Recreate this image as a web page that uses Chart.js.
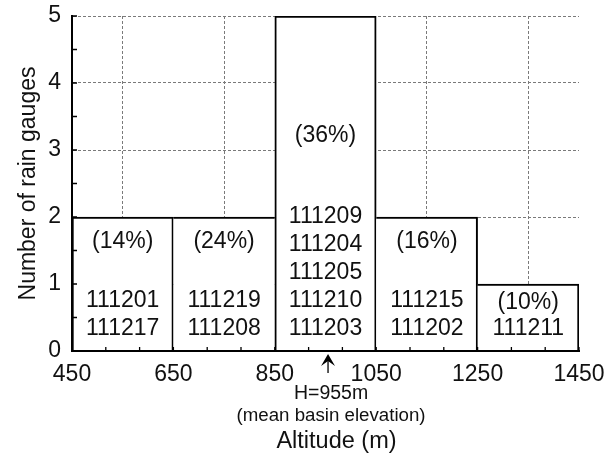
<!DOCTYPE html>
<html>
<head>
<meta charset="utf-8">
<script src="https://cdn.jsdelivr.net/npm/chart.js@4/dist/chart.umd.min.js"></script>
<style>
  html, body { margin: 0; padding: 0; background: #fff; }
  #wrap { width: 613px; height: 458px; }
</style>
</head>
<body>
<div id="wrap"><canvas id="chart"></canvas></div>
<script>
// Altitude bins (lower edge, m) and bin width
const binStarts = [450, 650, 850, 1050, 1250];
const binWidth = 200;
// Number of rain gauges in each altitude bin
const gaugeCounts = [2, 2, 5, 2, 1];
// Share of basin area in each bin
const areaShares = ['(14%)', '(24%)', '(36%)', '(16%)', '(10%)'];
// Gauge station codes in each bin, top to bottom
const gaugeIds = [
  ['111201', '111217'],
  ['111219', '111208'],
  ['111209', '111204', '111205', '111210', '111203'],
  ['111215', '111202'],
  ['111211']
];
// Mean basin elevation (m)
const meanElevation = 955;
// Axis ticks
const xTickValues = [450, 650, 850, 1050, 1250, 1450];
const yTickValues = [0, 1, 2, 3, 4, 5];

const FONT = '"Liberation Sans", Arial, Helvetica, sans-serif';
Chart.defaults.font.family = FONT;
Chart.defaults.color = '#000';

// where the share label of each bin sits (in gauge-count units)
const shareLabelAt = [1.63, 1.63, 3.21, 1.63, 0.72];

const n = gaugeCounts.length;

const barAnnotations = {
  id: 'barAnnotations',
  afterDatasetsDraw(chart) {
    const { ctx, chartArea, scales: { x, y } } = chart;
    ctx.save();

    // inward minor tick marks
    ctx.strokeStyle = '#000';
    ctx.lineWidth = 1.3;
    ctx.beginPath();
    for (let v = 0; v <= 5.0001; v += 0.5) {
      const py = y.getPixelForValue(v);
      ctx.moveTo(chartArea.left, py);
      ctx.lineTo(chartArea.left + 5, py);
    }
    for (let k = 0; k <= 15; k++) {
      const px = x.getPixelForValue(xTickValues[0] + k * binWidth / 3);
      ctx.moveTo(px, chartArea.bottom);
      ctx.lineTo(px, chartArea.bottom - 4);
    }
    ctx.stroke();

    // labels inside the bars
    ctx.fillStyle = '#111';
    ctx.textAlign = 'center';
    ctx.textBaseline = 'middle';
    ctx.font = '23px ' + FONT;
    const rowGap = 28;
    const lastRowY = y.getPixelForValue(0.33);
    for (let i = 0; i < n; i++) {
      const cx = x.getPixelForValue(binStarts[i] + binWidth / 2);
      const ids = gaugeIds[i];
      ids.forEach((id, j) => {
        ctx.fillText(id, cx, lastRowY - (ids.length - 1 - j) * rowGap);
      });
      ctx.fillText(areaShares[i], cx, y.getPixelForValue(shareLabelAt[i]));
    }

    // mean basin elevation marker below the axis
    const ax = x.getPixelForValue(meanElevation);
    const b = chartArea.bottom;
    ctx.strokeStyle = '#000';
    ctx.lineWidth = 1.3;
    ctx.beginPath();
    ctx.moveTo(ax, b + 6);
    ctx.lineTo(ax, b + 22);
    ctx.stroke();
    ctx.fillStyle = '#000';
    ctx.beginPath();
    ctx.moveTo(ax, b + 3);
    ctx.lineTo(ax + 7, b + 15);
    ctx.lineTo(ax, b + 10);
    ctx.lineTo(ax - 7, b + 15);
    ctx.closePath();
    ctx.fill();

    ctx.fillStyle = '#111';
    ctx.font = '19.5px ' + FONT;
    ctx.fillText('H=' + meanElevation + 'm', ax + 3, b + 43);
    ctx.font = '18.7px ' + FONT;
    ctx.fillText('(mean basin elevation)', ax + 3, b + 65);

    // x axis title
    ctx.font = '23.5px ' + FONT;
    ctx.fillText('Altitude (m)', (chartArea.left + chartArea.right) / 2 + 11, b + 91);
    ctx.restore();
  }
};

const barData = binStarts.map((s, i) => ({ x: s + binWidth / 2, y: gaugeCounts[i] }));

new Chart(document.getElementById('chart'), {
  type: 'bar',
  data: {
    datasets: [{
      data: barData,
      backgroundColor: '#fff',
      borderColor: '#000',
      borderSkipped: false,
      // each shared edge is drawn once, by the taller neighbour
      borderWidth: (ctx) => {
        const i = ctx.dataIndex;
        if (i === undefined) return 2;
        const c = gaugeCounts[i];
        return {
          top: 2,
          bottom: 0,
          left: (i > 0 && gaugeCounts[i - 1] >= c) ? 0 : 2,
          right: (i < n - 1 && gaugeCounts[i + 1] > c) ? 0 : 2
        };
      },
      barPercentage: 1,
      categoryPercentage: 1,
      grouped: false
    }]
  },
  options: {
    responsive: true,
    maintainAspectRatio: false,
    animation: false,
    events: [],
    layout: { padding: { left: 0, right: 34, top: 16, bottom: 0 } },
    plugins: { legend: { display: false }, tooltip: { enabled: false } },
    scales: {
      x: {
        type: 'linear',
        min: 450,
        max: 1450,
        offset: false,
        afterBuildTicks: (s) => { s.ticks = xTickValues.map(v => ({ value: v })); },
        afterFit: (s) => { s.height = 107; s.paddingLeft = 0; s.paddingRight = 0; },
        grid: { color: '#7a7a7a', lineWidth: 1, drawTicks: false },
        border: { display: true, color: '#000', width: 2, dash: [3, 2], z: 1 },
        ticks: {
          font: { size: 23 }, padding: 10, maxRotation: 0, autoSkip: false, color: '#111',
          callback: (v) => String(v)
        }
      },
      y: {
        min: 0,
        max: 5,
        afterBuildTicks: (s) => { s.ticks = yTickValues.map(v => ({ value: v })); },
        afterFit: (s) => { s.width = 72; s.paddingTop = 0; s.paddingBottom = 0; },
        grid: { color: '#7a7a7a', lineWidth: 1, drawTicks: false },
        border: { display: true, color: '#000', width: 2, dash: [3, 2], z: 1 },
        ticks: { font: { size: 23 }, padding: 11, color: '#111', callback: (v) => String(v) },
        title: {
          display: true,
          text: 'Number of rain gauges',
          font: { size: 23 },
          color: '#111',
          padding: { top: 15, bottom: 0 }
        }
      }
    }
  },
  plugins: [barAnnotations]
});
</script>
</body>
</html>
